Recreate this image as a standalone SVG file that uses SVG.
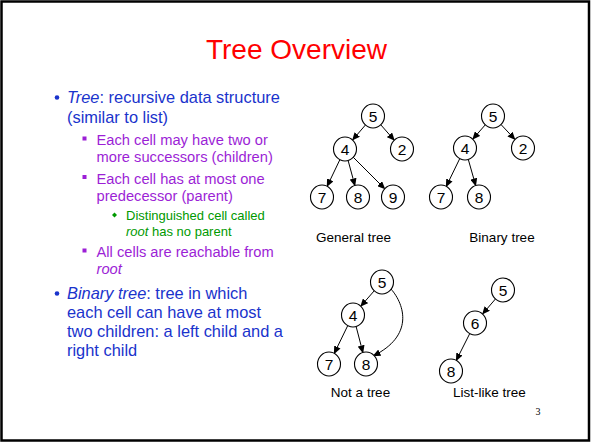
<svg xmlns="http://www.w3.org/2000/svg" width="592" height="443" viewBox="0 0 592 443">
  <style>
    .title { font-family: "Liberation Sans", Arial, sans-serif; font-size: 28px; fill: #ff0000; text-anchor: middle; }
    .l1 { font-family: "Liberation Sans", Arial, sans-serif; font-size: 16.4px; fill: #1a33cc; }
    .l2 { font-family: "Liberation Sans", Arial, sans-serif; font-size: 14.7px; fill: #9c1fd6; }
    .l3 { font-family: "Liberation Sans", Arial, sans-serif; font-size: 13px; fill: #009900; }
    .node ellipse { fill: #ffffff; stroke: #000000; stroke-width: 1.1; }
    .node text { font-family: "Liberation Sans", Arial, sans-serif; font-size: 15.5px; fill: #000000; text-anchor: middle; }
    .cap { font-family: "Liberation Sans", Arial, sans-serif; font-size: 13.5px; fill: #000000; text-anchor: middle; }
    .edges line, .edges path { stroke: #000000; stroke-width: 1; fill: none; marker-end: url(#arrow); }
  </style>
  <defs>
    <marker id="arrow" markerUnits="userSpaceOnUse" markerWidth="8" markerHeight="7" refX="7.5" refY="3.5" orient="auto">
      <path d="M0,0 L8,3.5 L0,7 z" fill="#000000"/>
    </marker>
  </defs>

  <!-- slide frame -->
  <rect x="1.5" y="1.5" width="587.5" height="439" fill="#ffffff" stroke="#000000" stroke-width="2.5"/>

  <text class="title" x="296.5" y="59">Tree Overview</text>

  <!-- bullet text -->
  <g id="bullets">
    <circle cx="57" cy="97.5" r="2.3" fill="#1a33cc"/>
    <text class="l1" x="67" y="102.5"><tspan font-style="italic">Tree</tspan>: recursive data structure</text>
    <text class="l1" x="67" y="122.5">(similar to list)</text>

    <rect x="82.5" y="136.5" width="4" height="4" fill="#9c1fd6"/>
    <text class="l2" x="96.5" y="145">Each cell may have two or</text>
    <text class="l2" x="96.5" y="162">more successors (children)</text>

    <rect x="82.5" y="175" width="4" height="4" fill="#9c1fd6"/>
    <text class="l2" x="96.5" y="183.5">Each cell has at most one</text>
    <text class="l2" x="96.5" y="200.5">predecessor (parent)</text>

    <polygon points="114.5,212.5 117,215 114.5,217.5 112,215" fill="#009900"/>
    <text class="l3" x="126" y="220">Distinguished cell called</text>
    <text class="l3" x="126" y="236"><tspan font-style="italic">root</tspan> has no parent</text>

    <rect x="82.5" y="248.5" width="4" height="4" fill="#9c1fd6"/>
    <text class="l2" x="96.5" y="257">All cells are reachable from</text>
    <text class="l2" x="96.5" y="273.5" font-style="italic">root</text>

    <circle cx="57" cy="293.5" r="2.3" fill="#1a33cc"/>
    <text class="l1" x="67" y="298.5"><tspan font-style="italic">Binary tree</tspan>: tree in which</text>
    <text class="l1" x="67" y="317.5">each cell can have at most</text>
    <text class="l1" x="67" y="337">two children: a left child and a</text>
    <text class="l1" x="67" y="356">right child</text>
  </g>

  <!-- connectors -->
  <g class="edges" id="edges">
    <!-- general tree -->
    <line x1="365.6" y1="124.8" x2="352.4" y2="140.2"/>
    <line x1="380.6" y1="124.6" x2="394.4" y2="140.4"/>
    <line x1="340" y1="159.4" x2="327" y2="186.6"/>
    <line x1="348" y1="160.1" x2="355" y2="185.9"/>
    <line x1="353.1" y1="157.1" x2="384.9" y2="188.9"/>
    <!-- binary tree -->
    <line x1="485.4" y1="124.7" x2="472.6" y2="139.3"/>
    <line x1="500.9" y1="124.4" x2="515.1" y2="139.6"/>
    <line x1="459.9" y1="158.3" x2="446.1" y2="186.7"/>
    <line x1="468.2" y1="159.1" x2="475.8" y2="185.9"/>
    <!-- not a tree -->
    <line x1="374.4" y1="290.6" x2="360.6" y2="306.4"/>
    <line x1="347.9" y1="325.3" x2="334.1" y2="353.7"/>
    <line x1="356" y1="326.1" x2="363" y2="352.9"/>
    <path d="M391,289 C405,305 414,336 373,356"/>
    <!-- list-like tree -->
    <line x1="495.6" y1="298.8" x2="482.4" y2="314.2"/>
    <line x1="469.9" y1="333.3" x2="456.1" y2="360.7"/>
  </g>

  <!-- general tree nodes -->
  <g class="node" id="g5"><ellipse cx="373" cy="116" rx="11.5" ry="12"/><text x="373" y="121.5">5</text></g>
  <g class="node" id="g4"><ellipse cx="345" cy="149" rx="11.5" ry="12"/><text x="345" y="154.5">4</text></g>
  <g class="node" id="g2"><ellipse cx="402" cy="149" rx="11.5" ry="12"/><text x="402" y="154.5">2</text></g>
  <g class="node" id="g7"><ellipse cx="322" cy="197" rx="11.5" ry="12"/><text x="322" y="202.5">7</text></g>
  <g class="node" id="g8"><ellipse cx="358" cy="197" rx="11.5" ry="12"/><text x="358" y="202.5">8</text></g>
  <g class="node" id="g9"><ellipse cx="393" cy="197" rx="11.5" ry="12"/><text x="393" y="202.5">9</text></g>

  <!-- binary tree nodes -->
  <g class="node" id="b5"><ellipse cx="493" cy="116" rx="11.5" ry="12"/><text x="493" y="121.5">5</text></g>
  <g class="node" id="b4"><ellipse cx="465" cy="148" rx="11.5" ry="12"/><text x="465" y="153.5">4</text></g>
  <g class="node" id="b2"><ellipse cx="523" cy="148" rx="11.5" ry="12"/><text x="523" y="153.5">2</text></g>
  <g class="node" id="b7"><ellipse cx="441" cy="197" rx="11.5" ry="12"/><text x="441" y="202.5">7</text></g>
  <g class="node" id="b8"><ellipse cx="479" cy="197" rx="11.5" ry="12"/><text x="479" y="202.5">8</text></g>

  <!-- not-a-tree nodes -->
  <g class="node" id="n5"><ellipse cx="382" cy="282" rx="11.5" ry="12"/><text x="382" y="287.5">5</text></g>
  <g class="node" id="n4"><ellipse cx="353" cy="315" rx="11.5" ry="12"/><text x="353" y="320.5">4</text></g>
  <g class="node" id="n7"><ellipse cx="329" cy="364" rx="11.5" ry="12"/><text x="329" y="369.5">7</text></g>
  <g class="node" id="n8"><ellipse cx="366" cy="364" rx="11.5" ry="12"/><text x="366" y="369.5">8</text></g>

  <!-- list-like tree nodes -->
  <g class="node" id="l5"><ellipse cx="503" cy="290" rx="11.5" ry="12"/><text x="503" y="295.5">5</text></g>
  <g class="node" id="l6"><ellipse cx="475" cy="323" rx="11.5" ry="12"/><text x="475" y="328.5">6</text></g>
  <g class="node" id="l8"><ellipse cx="451" cy="371" rx="11.5" ry="12"/><text x="451" y="376.5">8</text></g>

  <!-- captions -->
  <text class="cap" x="353.5" y="242">General tree</text>
  <text class="cap" x="502" y="242">Binary tree</text>
  <text class="cap" x="360.5" y="397">Not a tree</text>
  <text class="cap" x="489.5" y="397">List-like tree</text>

  <text x="538" y="415" font-family="'Liberation Serif', 'Times New Roman', serif" font-size="10" fill="#000000" text-anchor="middle">3</text>
</svg>
